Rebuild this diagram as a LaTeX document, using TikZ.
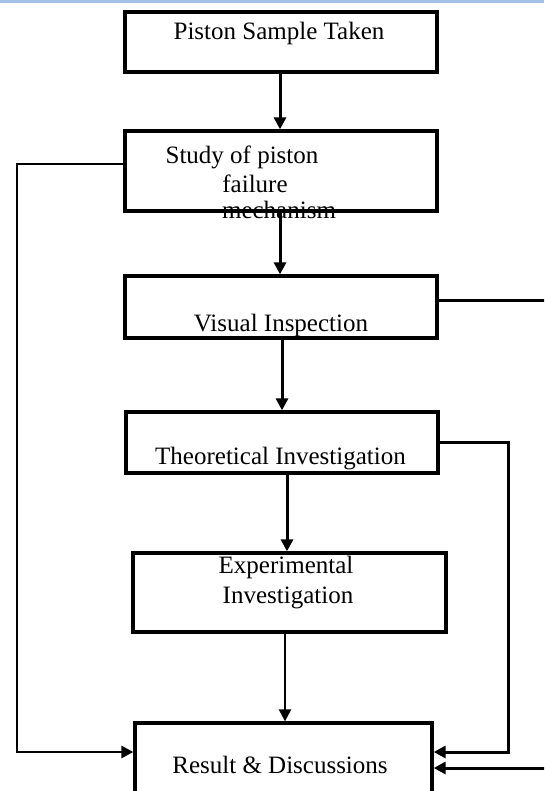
\documentclass[tikz,border=0pt]{standalone}
\usepackage{fontspec}
\setmainfont{Liberation Serif}
\usetikzlibrary{arrows.meta}

\tikzset{
  box/.style = {draw, line width=3.3pt, rectangle, inner sep=0pt},
  txt/.style = {font=\fontsize{25}{28}\selectfont, inner sep=0pt},
  arr/.style = {line width=3pt, -{Triangle[length=12pt,width=12pt]}},
  line/.style = {line width=3pt}
}

\begin{document}
\begin{tikzpicture}[x=1pt, y=-1pt]
    \clip (0,0) rectangle (544,791);
    \fill[color={rgb,255:red,166;green,193;blue,232}] (0,0) rectangle (544,3.5);

    % Boxes
    \node[box, minimum width=312pt, minimum height=60pt] (b1) at (281,42) {};
    \node[box, minimum width=312pt, minimum height=80pt] (b2) at (281,171) {};
    \node[box, minimum width=312pt, minimum height=62pt] (b3) at (281,307) {};
    \node[box, minimum width=312pt, minimum height=61pt] (b4) at (282,442.5) {};
    \node[box, minimum width=313pt, minimum height=79pt] (b5) at (289.5,592.5) {};
    \node[box, minimum width=297pt, minimum height=90pt] (b6) at (283.5,768) {};

    % Texts
    \node[txt] (t1) at (279,33) {Piston Sample Taken};
    \node[txt] (t2a) at (242,157) {Study of piston};
    \node[txt] (t2b) at (255,184) {failure};
    \node[txt] (t2c) at (279,210) {mechanism};
    \node[txt] (t3) at (281,325) {Visual Inspection};
    \node[txt] (t4) at (280.5,459) {Theoretical Investigation};
    \node[txt] (t5a) at (286,567) {Experimental};
    \node[txt] (t5b) at (288,598) {Investigation};
    \node[txt] (t6) at (280,765) {Result \& Discussions};

    % Arrows down
    \draw[arr] ([xshift=-1pt]b1.south) -- ([xshift=-1pt]b2.north);
    \draw[arr] ([xshift=-1pt]b2.south) -- ([xshift=-1pt]b3.north);
    \draw[arr] ([xshift=1pt]b3.south) -- ([xshift=0pt]b4.north);
    \draw[arr] ([xshift=5pt]b4.south) -- ([xshift=-2.5pt]b5.north);
    \draw[arr, line width=2.4pt] ([xshift=-4.5pt]b5.south) -- ([xshift=1.5pt]b6.north);

    % Feedback lines
    \coordinate (l1) at (17,164);
    \coordinate (l2) at (17,752);
    \draw[arr, line width=2.7pt] (b2.west |- l1) -- (l1) -- (l2) -- (l2 -| b6.west);

    \coordinate (r1) at (545,300);
    \draw[line] (b3.east |- r1) -- (r1);

    \coordinate (r3) at (508,442);
    \coordinate (r4) at (508,752);
    \draw[arr] (b4.east |- r3) -- (r3) -- (r4) -- (r4 -| b6.east);

    \coordinate (r2) at (545,768);
    \draw[arr] (r2) -- (r2 -| b6.east);

\end{tikzpicture}
\end{document}
